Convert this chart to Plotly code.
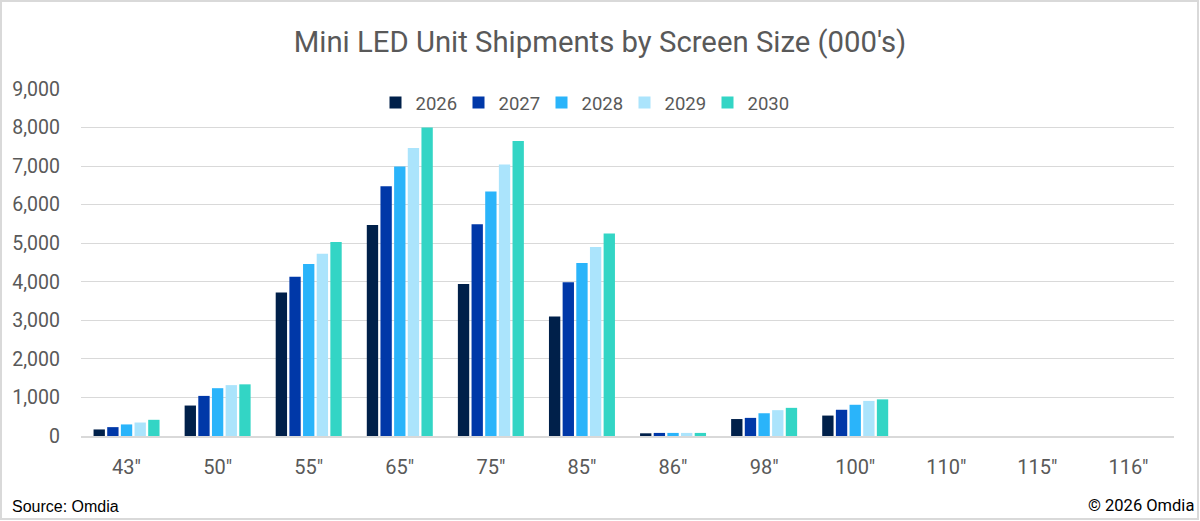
import plotly.graph_objects as go

sizes = ['43"', '50"', '55"', '65"', '75"', '85"', '86"', '98"', '100"', '110"', '115"', '116"']
years = ["2026", "2027", "2028", "2029", "2030"]
v2026 = [170, 790, 3720, 5470, 3940, 3100, 70, 440, 530, 0, 0, 0]
v2027 = [230, 1040, 4130, 6480, 5490, 3990, 80, 470, 680, 0, 0, 0]
v2028 = [300, 1240, 4460, 6990, 6340, 4490, 80, 590, 810, 0, 0, 0]
v2029 = [350, 1320, 4730, 7470, 7040, 4900, 80, 670, 910, 0, 0, 0]
v2030 = [420, 1340, 5030, 8000, 7650, 5250, 80, 730, 950, 0, 0, 0]
series = [v2026, v2027, v2028, v2029, v2030]
colors = ["#00204A", "#0038A8", "#2AB4FA", "#ABE4FC", "#33D5C5"]
y_ticks = [0, 1000, 2000, 3000, 4000, 5000, 6000, 7000, 8000, 9000]

W, H = 1200, 521
ML, MR, MT, MB = 81, 26, 89, 85
PW, PH = W - ML - MR, H - MT - MB

fig = go.Figure()
for name, vals, col in zip(years, series, colors):
    fig.add_trace(go.Bar(x=sizes, y=vals, name=name, marker=dict(color=col, line=dict(width=0))))

def px_x(p):
    return (p - ML) / PW

def px_y(p):
    return (H - MB - p) / PH

fig.update_layout(
    width=W, height=H,
    margin=dict(l=ML, r=MR, t=MT, b=MB),
    paper_bgcolor="white", plot_bgcolor="white",
    barmode="group", bargap=0.25, bargroupgap=0.17,
    font=dict(family="Roboto", color="#595959"),
    title=dict(text="Mini LED Unit Shipments by Screen Size (000's)",
               x=0.5, xanchor="center", y=1 - 42 / H, yanchor="middle",
               font=dict(family="Roboto", size=29.3, color="#595959")),
    legend=dict(orientation="h", x=px_x(583), xanchor="center", y=px_y(103), yanchor="middle",
                font=dict(family="Roboto", size=18.5, color="#595959"),
                itemwidth=30, entrywidth=38, traceorder="normal",
                bgcolor="rgba(0,0,0,0)"),
    xaxis=dict(showgrid=False, showline=True, linecolor="#D9D9D9", linewidth=1.5,
               tickfont=dict(family="Roboto", size=20, color="#595959"),
               ticks="", ticklabelstandoff=12),
    yaxis=dict(range=[0, 9000], tickvals=y_ticks, tickformat=",d",
               showgrid=True, gridcolor="#D9D9D9", gridwidth=1.2, zeroline=False,
               tickfont=dict(family="Roboto", size=19.5, color="#595959"),
               ticks="", ticklabelstandoff=20),
    showlegend=True,
)

fig.add_annotation(text="Source: Omdia", xref="paper", yref="paper",
                   x=px_x(10), y=px_y(506), xanchor="left", yanchor="middle", showarrow=False,
                   font=dict(family="Liberation Sans", size=16, color="#000000"))
fig.add_annotation(text="© 2026 Omdia", xref="paper", yref="paper",
                   x=px_x(1196), y=px_y(505), xanchor="right", yanchor="middle", showarrow=False,
                   font=dict(family="Roboto", size=16.5, color="#000000"))
fig.add_shape(type="rect", xref="paper", yref="paper",
              x0=px_x(1), x1=px_x(1198), y0=px_y(519), y1=px_y(1),
              line=dict(color="#D9D9D9", width=2), fillcolor="rgba(0,0,0,0)", layer="below")

fig.write_html("out.html", config={"displayModeBar": False},
               post_script="document.body.style.margin='0';document.body.style.overflow='hidden';")
